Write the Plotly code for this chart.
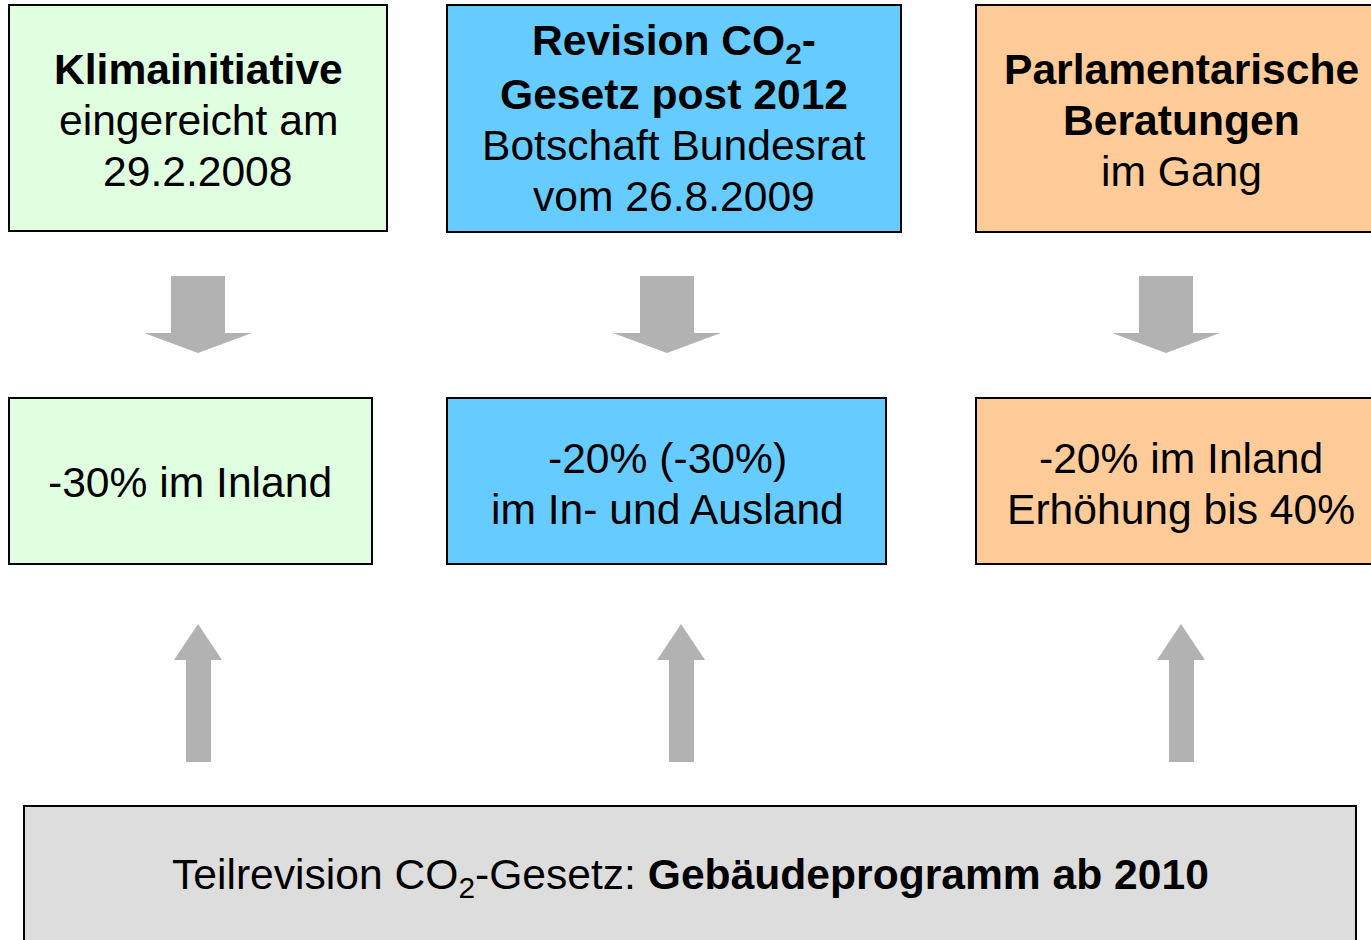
import plotly.graph_objects as go

# ---- content ----
top_titles = [["Klimainitiative"],
              ["Revision CO<sub>2</sub>-", "Gesetz post 2012"],
              ["Parlamentarische", "Beratungen"]]
top_subtitles = [["eingereicht am", "29.2.2008"],
                 ["Botschaft Bundesrat", "vom 26.8.2009"],
                 ["im Gang"]]
targets = [["-30% im Inland"],
           ["-20% (-30%)", "im In- und Ausland"],
           ["-20% im Inland", "Erhöhung bis 40%"]]
bottom_plain = "Teilrevision CO<sub>2</sub>-Gesetz: "
bottom_bold = "Gebäudeprogramm ab 2010"

# ---- layout geometry (pixels) ----
W, H = 1371, 940
colors = ["#E0FFE0", "#66CCFF", "#FFCC99"]
top_boxes = [(9, 387, 5, 231), (447, 901, 5, 232), (976, 1395, 5, 232)]
mid_boxes = [(9, 372, 398, 564), (447, 886, 398, 564), (976, 1395, 398, 564)]
top_text_x = [198, 674, 1181]
top_first_y = [69, 43, 69]
mid_text_x = [190, 667, 1181]
mid_first_y = [482, 458, 458]
line_h = 51
down_cx = [198, 667, 1166]
up_cx = [198, 681, 1181]
FONT = "Liberation Sans, Arial, sans-serif"
FS = 42.6

fig = go.Figure()
shapes = []
annotations = []

def box(x0, x1, y0, y1, fill):
    shapes.append(dict(type="rect", xref="x", yref="y", x0=x0, x1=x1, y0=y0, y1=y1,
                       fillcolor=fill, line=dict(color="black", width=2), layer="below"))

for (x0, x1, y0, y1), c in zip(top_boxes, colors):
    box(x0, x1, y0, y1, c)
for (x0, x1, y0, y1), c in zip(mid_boxes, colors):
    box(x0, x1, y0, y1, c)
box(24, 1356, 806, 960, "#DDDDDD")

def line_text(x, y, txt, bold=False):
    annotations.append(dict(x=x, y=y, xref="x", yref="y", showarrow=False,
                            text=f"<b>{txt}</b>" if bold else txt,
                            xanchor="center", yanchor="middle",
                            font=dict(family=FONT, size=FS, color="black")))

for i in range(3):
    y = top_first_y[i]
    for t in top_titles[i]:
        line_text(top_text_x[i], y, t, bold=True)
        y += line_h
    for t in top_subtitles[i]:
        line_text(top_text_x[i], y, t)
        y += line_h
    y = mid_first_y[i]
    for t in targets[i]:
        line_text(mid_text_x[i], y, t)
        y += line_h

line_text(690, 877, bottom_plain + "<b>" + bottom_bold + "</b>")

ARROW = "#B2B2B2"
for cx in down_cx:
    path = (f"M {cx-27},276 L {cx+27},276 L {cx+27},333 L {cx+54},333 "
            f"L {cx},353 L {cx-54},333 L {cx-27},333 Z")
    shapes.append(dict(type="path", xref="x", yref="y", path=path,
                       fillcolor=ARROW, line=dict(width=0)))
for cx in up_cx:
    path = (f"M {cx},624 L {cx+24},660 L {cx+13},660 L {cx+13},762 "
            f"L {cx-12},762 L {cx-12},660 L {cx-24},660 Z")
    shapes.append(dict(type="path", xref="x", yref="y", path=path,
                       fillcolor=ARROW, line=dict(width=0)))

fig.update_layout(
    width=W, height=H,
    margin=dict(l=0, r=0, t=0, b=0),
    paper_bgcolor="white", plot_bgcolor="white",
    xaxis=dict(range=[0, W], visible=False, fixedrange=True),
    yaxis=dict(range=[H, 0], visible=False, fixedrange=True),
    shapes=shapes, annotations=annotations, showlegend=False,
)
fig.write_html("out.html", config={"displayModeBar": False},
               post_script="document.body.style.margin='0px';")
